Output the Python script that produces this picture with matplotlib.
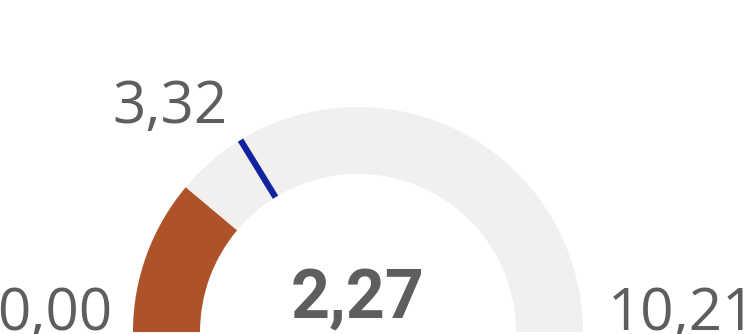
import matplotlib
matplotlib.use("Agg")
import numpy as np
import matplotlib.pyplot as plt
from matplotlib.patches import Wedge

# Gauge values
min_value = 0.00
max_value = 10.21
value = 2.27
target = 3.32


def fmt(v):
    return f"{v:.2f}".replace(".", ",")


def angle_of(v):
    # 180 deg at the minimum, 0 deg at the maximum
    return 180.0 - (v - min_value) / (max_value - min_value) * 180.0


W, H = 749, 334
fig = plt.figure(figsize=(W / 100, H / 100), dpi=100)
ax = fig.add_axes([0, 0, 1, 1])
ax.set_xlim(0, W)
ax.set_ylim(0, H)
ax.set_aspect("equal")
ax.axis("off")

cx, cy = 358, 2
r_out, thick = 225, 67

# background arc and filled part
ax.add_patch(Wedge((cx, cy), r_out, 0, 180, width=thick, color="#F1F0EF", lw=0))
ax.add_patch(Wedge((cx, cy), r_out, angle_of(value), 180, width=thick,
                   color="#AD5229", lw=0))

# target marker
a = np.deg2rad(angle_of(target))
r_in = r_out - thick
ax.plot([cx + r_in * np.cos(a), cx + r_out * np.cos(a)],
        [cy + r_in * np.sin(a), cy + r_out * np.sin(a)],
        color="#1122A0", lw=4.5, solid_capstyle="butt")

grey = "#605E5C"
ax.text(-3, 4, fmt(min_value), fontsize=42, color=grey, family="Open Sans",
        ha="left", va="baseline")
ax.text(608, 4, fmt(max_value), fontsize=42, color=grey, family="Open Sans",
        ha="left", va="baseline")
ax.text(112, 211, fmt(target), fontsize=42, color=grey, family="Open Sans",
        ha="left", va="baseline")
ax.text(cx, 16, fmt(value), fontsize=49, color=grey, family="Roboto",
        fontweight="bold", ha="center", va="baseline")

fig.savefig("out.png", dpi=100)
